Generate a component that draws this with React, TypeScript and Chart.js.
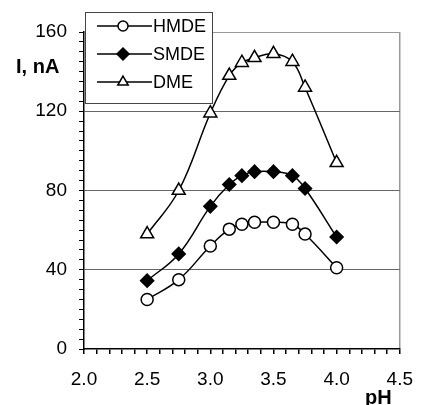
import React, { useEffect, useRef } from "react";
import { Chart, registerables } from "chart.js";

Chart.register(...registerables);

const phValues = [2.5, 2.75, 3.0, 3.15, 3.25, 3.35, 3.5, 3.65, 3.75, 4.0];
const hmde = [25, 35, 52, 60.5, 63, 64, 64, 63, 58, 41];
const smde = [34.5, 48, 72, 83, 87.5, 89.5, 89.5, 87.5, 81, 56.5];
const dme = [58, 80, 119, 138, 144.5, 147, 149, 145, 132, 94];
const seriesNames = ["HMDE", "SMDE", "DME"];
const xTickLabels = ["2.0", "2.5", "3.0", "3.5", "4.0", "4.5"];
const yTickLabels = ["0", "40", "80", "120", "160"];

const FONT = "'Liberation Sans', Arial, sans-serif";

function toPoints(vals: number[]) {
  return vals.map((v, i) => ({ x: phValues[i], y: v }));
}

function drawMarker(ctx: CanvasRenderingContext2D, style: string, x: number, y: number, r: number) {
  ctx.save();
  ctx.lineWidth = 1.5;
  ctx.strokeStyle = "#000";
  ctx.beginPath();
  if (style === "circle") {
    ctx.fillStyle = "#fff";
    ctx.arc(x, y, r, 0, Math.PI * 2);
  } else if (style === "rectRot") {
    ctx.fillStyle = "#000";
    ctx.moveTo(x, y - r);
    ctx.lineTo(x + r, y);
    ctx.lineTo(x, y + r);
    ctx.lineTo(x - r, y);
    ctx.closePath();
  } else {
    ctx.fillStyle = "#fff";
    const side = (3 * r) / Math.sqrt(3);
    const h = (side * Math.sqrt(3)) / 2;
    ctx.moveTo(x, y - (2 * h) / 3);
    ctx.lineTo(x + side / 2, y + h / 3);
    ctx.lineTo(x - side / 2, y + h / 3);
    ctx.closePath();
  }
  ctx.fill();
  ctx.stroke();
  ctx.restore();
}

const decorPlugin = {
  id: "decor",
  afterDraw(chart: any) {
    const ctx = chart.ctx as CanvasRenderingContext2D;
    ctx.save();
    // axis titles
    ctx.fillStyle = "#000";
    ctx.font = `bold 20px ${FONT}`;
    ctx.textBaseline = "alphabetic";
    ctx.textAlign = "left";
    ctx.fillText("I, nA", 16, 73);
    ctx.fillText("pH", 365, 404);
    // legend
    const bx = 85.5, by = 12.5, bw = 127, bh = 91;
    ctx.fillStyle = "#fff";
    ctx.fillRect(bx, by, bw, bh);
    ctx.strokeStyle = "#444";
    ctx.lineWidth = 1;
    ctx.strokeRect(bx, by, bw, bh);
    const styles = ["circle", "rectRot", "triangle"];
    const radii = [5, 6, 6];
    const rows = [26, 54, 82];
    ctx.font = `18px ${FONT}`;
    ctx.textBaseline = "middle";
    for (let i = 0; i < 3; i++) {
      const yy = rows[i];
      ctx.strokeStyle = "#000";
      ctx.lineWidth = 1.5;
      ctx.beginPath();
      ctx.moveTo(97, yy);
      ctx.lineTo(152, yy);
      ctx.stroke();
      drawMarker(ctx, styles[i], 123, yy, radii[i]);
      ctx.fillStyle = "#000";
      ctx.fillText(seriesNames[i], 153, yy + 1);
    }
    ctx.restore();
  },
};

export default function App() {
  const ref = useRef<HTMLCanvasElement>(null);
  useEffect(() => {
    if (!ref.current) return;
    const common = {
      borderColor: "#000",
      borderWidth: 1.5,
      pointBorderColor: "#000",
      pointBorderWidth: 1.5,
      tension: 0.4,
      fill: false,
    };
    const chart = new Chart(ref.current, {
      type: "line",
      data: {
        datasets: [
          { ...common, label: seriesNames[0], data: toPoints(hmde), pointStyle: "circle", pointRadius: 6, pointBackgroundColor: "#fff" },
          { ...common, label: seriesNames[1], data: toPoints(smde), pointStyle: "rectRot", pointRadius: 6.5, pointBackgroundColor: "#000" },
          { ...common, label: seriesNames[2], data: toPoints(dme), pointStyle: "triangle", pointRadius: 7.5, pointBackgroundColor: "#fff" },
        ],
      },
      options: {
        animation: false,
        responsive: false,
        devicePixelRatio: 1,
        layout: { padding: { left: 0, top: 32, right: 18, bottom: 0 } },
        plugins: { legend: { display: false }, tooltip: { enabled: false } },
        scales: {
          x: {
            type: "linear",
            min: 2,
            max: 4.5,
            ticks: {
              stepSize: 0.1,
              autoSkip: false,
              maxRotation: 0,
              color: "#000",
              padding: 14,
              font: { family: FONT, size: 19 },
              callback: (v: any) => {
                const t = Math.round(Number(v) * 10);
                if (t % 5 !== 0) return "";
                const s = (t / 10).toFixed(1);
                return xTickLabels.includes(s) ? s : "";
              },
            },
            grid: {
              color: (c: any) => (c.tick && Math.abs(c.tick.value - 4.5) < 1e-6 ? "#999" : "transparent"),
              tickColor: "#000",
              tickLength: 5,
              lineWidth: 1.5,
            },
            border: { color: "#000", width: 1.5 },
            afterFit: (s: any) => { s.height = 56; },
          },
          y: {
            type: "linear",
            min: 0,
            max: 160,
            ticks: {
              stepSize: 5,
              autoSkip: false,
              color: "#000",
              padding: 12,
              font: { family: FONT, size: 19 },
              callback: (v: any) => {
                const s = String(Math.round(Number(v)));
                return Number(v) % 40 === 0 && yTickLabels.includes(s) ? s : "";
              },
            },
            grid: {
              color: (c: any) => {
                if (!c.tick) return "transparent";
                const v = c.tick.value;
                if (v === 160) return "#999";
                if (v > 0 && v % 40 === 0) return "#666";
                return "transparent";
              },
              tickColor: "#000",
              tickLength: 5,
              lineWidth: 1,
            },
            border: { color: "#000", width: 1.5 },
            afterFit: (s: any) => { s.width = 84; },
          },
        },
      },
      plugins: [decorPlugin],
    } as any);
    return () => chart.destroy();
  }, []);
  return (
    <div style={{ position: "absolute", left: 0, top: 0, width: 427, height: 405, background: "#fff" }}>
      <canvas ref={ref} width={427} height={405} style={{ display: "block" }} />
    </div>
  );
}
